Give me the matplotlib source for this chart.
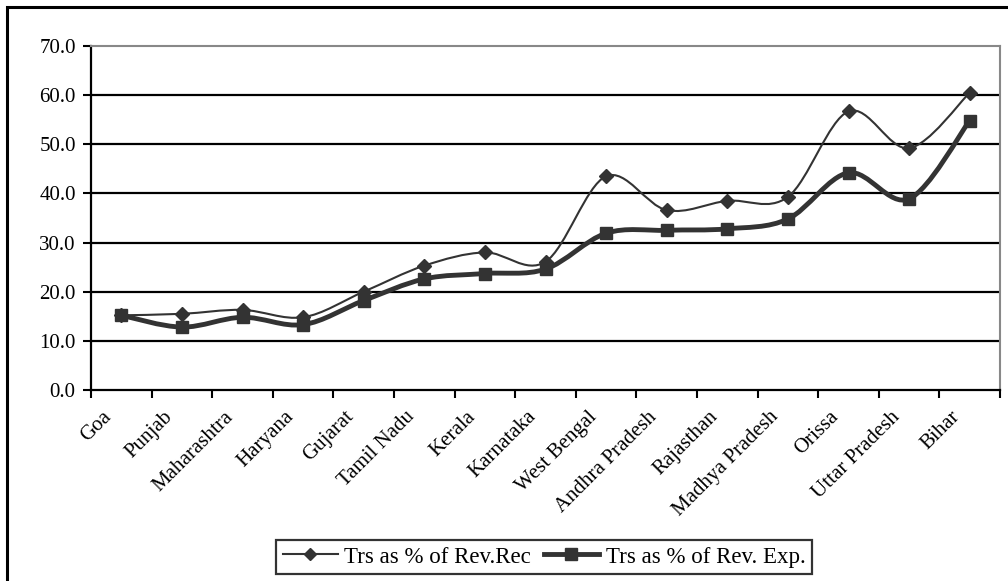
import numpy as np
import matplotlib
matplotlib.use("Agg")
import matplotlib.pyplot as plt
from matplotlib.path import Path
from matplotlib.patches import PathPatch, Rectangle
from matplotlib.lines import Line2D
from matplotlib.transforms import ScaledTranslation

# data
states = ["Goa", "Punjab", "Maharashtra", "Haryana", "Gujarat", "Tamil Nadu",
          "Kerala", "Karnataka", "West Bengal", "Andhra Pradesh", "Rajasthan",
          "Madhya Pradesh", "Orissa", "Uttar Pradesh", "Bihar"]
rev_rec = [15.2, 15.5, 16.3, 14.8, 20.0, 25.3, 28.0, 26.1, 43.5, 36.6,
           38.5, 39.3, 56.7, 49.2, 60.5]
rev_exp = [15.2, 12.8, 14.8, 13.3, 18.2, 22.6, 23.7, 24.6, 31.9, 32.5,
           32.8, 34.8, 44.2, 38.9, 54.8]
yticks = [0, 10, 20, 30, 40, 50, 60, 70]

plt.rcParams['font.family'] = ['Liberation Serif', 'DejaVu Serif']
col = "#333333"
fs = 15

fig = plt.figure(figsize=(10.08, 5.81), dpi=100)
ax = fig.add_axes([91/1008, 1-390/581, 909/1008, 344/581])


def smooth_path(x, y):
    # excel-like smoothed line as cubic bezier segments
    p = np.column_stack([x, y]).astype(float)
    n = len(p)
    verts = [p[0]]
    codes = [Path.MOVETO]
    for i in range(n-1):
        p0 = p[i-1] if i > 0 else p[i]
        p3 = p[i+2] if i+2 < n else p[i+1]
        c1 = p[i] + (p[i+1]-p0)/6.0
        c2 = p[i+1] - (p3-p[i])/6.0
        verts += [c1, c2, p[i+1]]
        codes += [Path.CURVE4]*3
    return Path(verts, codes)


x = np.arange(len(states))
ax.add_patch(PathPatch(smooth_path(x, rev_rec), fill=False, edgecolor=col, lw=1.5, zorder=3))
ax.add_patch(PathPatch(smooth_path(x, rev_exp), fill=False, edgecolor=col, lw=3.5, zorder=3))
ax.plot(x, rev_rec, ls="none", marker="D", ms=7, color=col, zorder=4)
ax.plot(x, rev_exp, ls="none", marker="s", ms=9, color=col, zorder=4)

ax.set_xlim(-0.5, len(states)-0.5)
ax.set_ylim(0, 70)
ax.set_yticks(yticks)
ax.set_yticklabels(["%.1f" % v for v in yticks], fontsize=fs)
for v in yticks[1:-1]:
    ax.axhline(v, color="black", lw=1.6, zorder=1)

ax.set_xticks(np.arange(len(states)+1)-0.5)
ax.set_xticklabels([])
ax.set_xticks(x, minor=True)
ax.set_xticklabels(states, minor=True, rotation=45, ha="right", va="top",
                   rotation_mode="anchor", fontsize=fs)
ax.tick_params(axis="x", which="minor", length=0, pad=12.5)
ax.tick_params(axis="x", which="major", length=6, width=1.5, direction="out")
ax.tick_params(axis="y", length=6, width=1.5, pad=5)
shift = ScaledTranslation(-19/100, 0, fig.dpi_scale_trans)
for lab in ax.get_xticklabels(minor=True):
    lab.set_transform(lab.get_transform() + shift)

for s in ["left", "bottom"]:
    ax.spines[s].set_linewidth(1.6)
    ax.spines[s].set_color("black")
for s in ["top", "right"]:
    ax.spines[s].set_linewidth(1.5)
    ax.spines[s].set_color("#888888")

h1 = Line2D([], [], color=col, lw=1.5, marker="D", ms=6)
h2 = Line2D([], [], color=col, lw=3.5, marker="s", ms=8)
leg = fig.legend([h1, h2], ["Trs as % of Rev.Rec", "Trs as % of Rev. Exp."],
                 loc="center", bbox_to_anchor=(544/1008, 1-557/581), ncol=2,
                 fontsize=16.5, frameon=True, fancybox=False, handlelength=2.4,
                 columnspacing=0.55, handletextpad=0.3, borderpad=0.3,
                 borderaxespad=0)
leg.get_frame().set_edgecolor("black")
leg.get_frame().set_linewidth(1.6)

fig.patches.append(Rectangle((7/1008, -0.1), 1.2, 1.1-7/581, transform=fig.transFigure,
                             fill=False, edgecolor="black", lw=2.2))

fig.savefig("out.png", dpi=100)
